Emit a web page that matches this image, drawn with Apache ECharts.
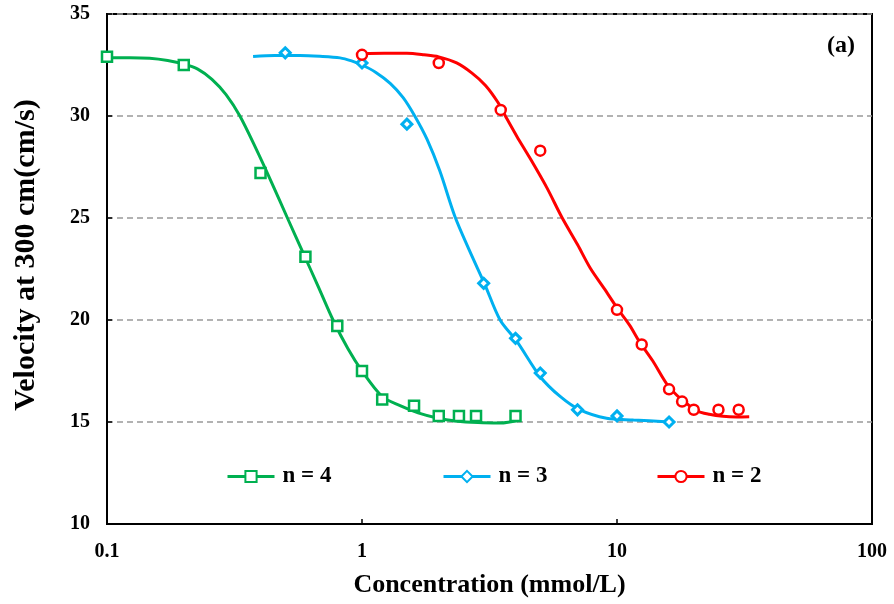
<!DOCTYPE html>
<html>
<head>
<meta charset="utf-8">
<script src="https://cdn.jsdelivr.net/npm/echarts@6/dist/echarts.min.js"></script>
<style>
  html, body { margin: 0; padding: 0; background: #fff; }
  #chart { width: 894px; height: 604px; }
</style>
</head>
<body>
<div id="chart"></div>
<script>
// Measured velocities (cm/s) at 300 cm versus concentration (mmol/L)
const n4Conc = [0.1, 0.2, 0.4, 0.6, 0.8, 1.0, 1.2, 1.6, 2.0, 2.4, 2.8, 4.0];
const n4Vel  = [32.9, 32.5, 27.2, 23.1, 19.7, 17.5, 16.1, 15.8, 15.3, 15.3, 15.3, 15.3];

const n3Conc = [0.5, 1.0, 1.5, 3.0, 4.0, 5.0, 7.0, 10, 16];
const n3Vel  = [33.1, 32.6, 29.6, 21.8, 19.1, 17.4, 15.6, 15.3, 15.0];

const n2Conc = [1.0, 2.0, 3.5, 5.0, 10, 12.5, 16, 18, 20, 25, 30];
const n2Vel  = [33.0, 32.6, 30.3, 28.3, 20.5, 18.8, 16.6, 16.0, 15.6, 15.6, 15.6];

// Fitted curves
const n4FitConc = [0.1, 0.123, 0.147, 0.173, 0.2, 0.227, 0.258, 0.293, 0.332, 0.384, 0.44, 0.51, 0.587,
                   0.673, 0.77, 0.88, 1.0, 1.2, 1.41, 1.66, 1.97, 2.33, 2.85, 3.47, 4.2];
const n4FitVel  = [32.85, 32.86, 32.83, 32.72, 32.55, 32.3, 31.8, 31.05, 30.0, 28.4, 26.8, 25.0, 23.3,
                   21.65, 20.0, 18.6, 17.5, 16.25, 15.8, 15.45, 15.2, 15.05, 14.97, 14.95, 15.1];

const n3FitConc = [0.374, 0.455, 0.57, 0.684, 0.82, 0.91, 1.0, 1.13, 1.29, 1.45, 1.61, 1.8, 2.02, 2.31,
                   2.64, 3.03, 3.48, 4.05, 5.0, 6.0, 7.16, 9.1, 11.6, 16.1];
const n3FitVel  = [32.92, 32.97, 32.97, 32.93, 32.85, 32.7, 32.5, 32.15, 31.6, 30.9, 30.0, 28.85, 27.3, 25.1,
                   23.4, 21.75, 20.0, 18.95, 17.22, 16.24, 15.59, 15.18, 15.1, 15.0];

const n2FitConc = [1.0, 1.22, 1.5, 1.75, 2.0, 2.35, 2.7, 3.05, 3.4, 3.65, 4.05, 4.55, 5.3, 6.1, 7.0, 7.85,
                   8.9, 10, 11.2, 12.3, 13.8, 15.7, 17.2, 18.8, 20.5, 23, 26, 29.5, 33];
const n2FitVel  = [33.05, 33.07, 33.07, 33.0, 32.9, 32.6, 32.1, 31.5, 30.7, 30.0, 29.0, 27.95, 26.5, 25.0, 23.7, 22.55,
                   21.55, 20.6, 19.75, 18.9, 18.0, 16.85, 16.3, 15.9, 15.55, 15.38, 15.28, 15.25, 15.26];

const xTicks = [0.1, 1, 10, 100];
const yTicks = [10, 15, 20, 25, 30, 35];

const seriesNames = ['n = 4', 'n = 3', 'n = 2'];
const colors = ['#00B050', '#00B0F0', '#FF0000'];
const legendSymbols = ['emptyRect', 'emptyDiamond', 'emptyCircle'];
const pointSymbols = ['rect', 'diamond', 'circle'];
const symbolSizes = [10, 10, 10];
const borderWidths = [2.5, 3, 2.5];

const pair = (xs, ys) => xs.map((x, i) => [x, ys[i]]);

const serif = "'Times New Roman', 'Liberation Serif', serif";

const fits = [pair(n4FitConc, n4FitVel), pair(n3FitConc, n3FitVel), pair(n2FitConc, n2FitVel)];
const points = [pair(n4Conc, n4Vel), pair(n3Conc, n3Vel), pair(n2Conc, n2Vel)];

const series = [];
seriesNames.forEach((name, i) => {
  // fitted curve (first, so the legend takes its line + marker icon)
  series.push({
    name: name,
    type: 'line',
    data: fits[i],
    smooth: 0.3,
    symbol: legendSymbols[i],
    showSymbol: false,
    symbolSize: symbolSizes[i],
    lineStyle: { color: colors[i], width: 3 },
    itemStyle: { color: colors[i], borderWidth: 2.5 },
    emphasis: { disabled: true },
    z: 2
  });
  // measured points
  series.push({
    name: name,
    type: 'scatter',
    data: points[i],
    symbol: pointSymbols[i],
    symbolSize: symbolSizes[i],
    itemStyle: { color: '#fff', borderColor: colors[i], borderWidth: borderWidths[i], opacity: 1 },
    emphasis: { disabled: true },
    z: 3
  });
});

const legendLefts = [221, 437, 651];
const legends = seriesNames.map((name, i) => ({
  data: [name],
  left: legendLefts[i],
  top: 460,
  itemWidth: 47,
  itemHeight: 14,
  lineStyle: { width: 3 },
  textStyle: { fontFamily: serif, fontWeight: 'bold', fontSize: 23, color: '#000', padding: [0, 0, 0, 3] }
}));

const chart = echarts.init(document.getElementById('chart'), null, { renderer: 'canvas' });
chart.setOption({
  backgroundColor: '#fff',
  animation: false,
  title: {
    text: '(a)',
    right: 34,
    top: 29,
    textStyle: { fontFamily: serif, fontWeight: 'bold', fontSize: 24, color: '#000' }
  },
  legend: legends,
  graphic: [{
    type: 'text',
    x: 26,
    y: 255,
    rotation: Math.PI / 2,
    style: {
      text: 'Velocity at 300 cm(cm/s)',
      fontFamily: serif, fontWeight: 'bold', fontSize: 30, fill: '#000',
      align: 'center', verticalAlign: 'middle'
    }
  }],
  grid: {
    left: 107, right: 22, top: 14, bottom: 80,
    show: true, borderColor: '#000', borderWidth: 2, backgroundColor: 'transparent'
  },
  xAxis: {
    type: 'log',
    logBase: 10,
    min: xTicks[0],
    max: xTicks[xTicks.length - 1],
    name: 'Concentration (mmol/L)',
    nameLocation: 'middle',
    nameGap: 48,
    nameTextStyle: { fontFamily: serif, fontWeight: 'bold', fontSize: 26, color: '#000' },
    axisLine: { lineStyle: { color: '#000', width: 2 } },
    axisTick: { inside: true, length: 5, lineStyle: { color: '#000', width: 1.5 } },
    minorTick: { show: false },
    splitLine: { show: false },
    axisLabel: {
      margin: 18,
      fontFamily: serif, fontWeight: 'bold', fontSize: 20, color: '#000',
      formatter: v => {
        const t = xTicks.find(k => Math.abs(k - v) / k < 1e-6);
        return t === undefined ? '' : String(t);
      }
    }
  },
  yAxis: {
    type: 'value',
    min: yTicks[0],
    max: yTicks[yTicks.length - 1],
    interval: 5,
    axisLine: { show: true, lineStyle: { color: '#000', width: 2 } },
    axisTick: { show: true, inside: true, length: 5, lineStyle: { color: '#000', width: 1.5 } },
    splitLine: { show: true, lineStyle: { color: '#999', width: 1.5, type: [6, 4] } },
    axisLabel: {
      margin: 17,
      fontFamily: serif, fontWeight: 'bold', fontSize: 20, color: '#000'
    }
  },
  series: series
});
</script>
</body>
</html>
